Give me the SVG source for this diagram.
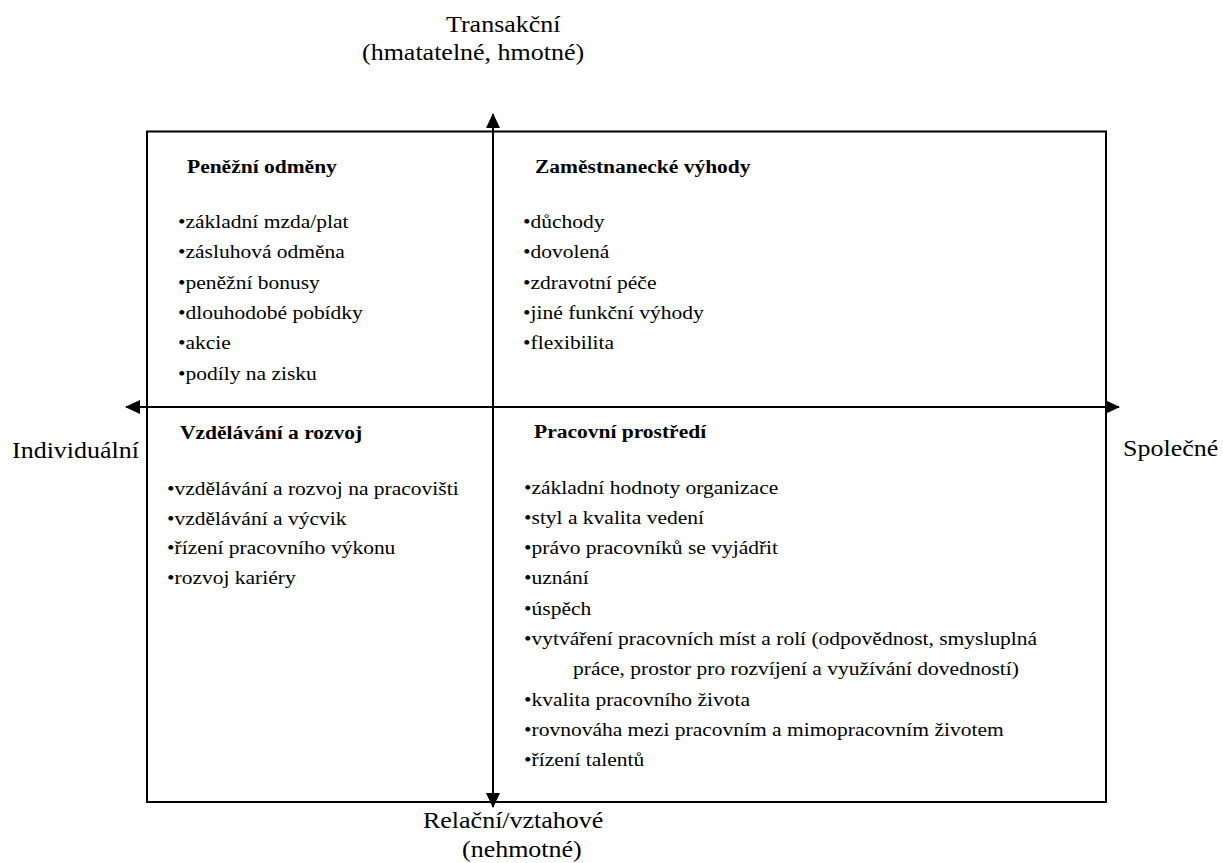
<svg xmlns="http://www.w3.org/2000/svg" width="1223" height="863" viewBox="0 0 1223 863" font-family="'Liberation Serif', 'Times New Roman', serif">
<defs>
<style>
text{font-family:'Liberation Serif','Times New Roman',serif;fill:#000}
.ax{font-size:22.6px}
.b{font-size:18.7px}
.h{font-size:18.7px;font-weight:bold}
.ln{stroke:#000;stroke-width:2;fill:none}
</style>
<marker id="arr" viewBox="0 0 15 14" markerWidth="15" markerHeight="14" refX="14" refY="7" orient="auto-start-reverse" markerUnits="userSpaceOnUse">
<path d="M0,0 L15,7 L0,14 Z" fill="#000"/>
</marker>
</defs>
<rect width="1223" height="863" fill="#fff"/>
<rect id="frame" x="147" y="131.5" width="959" height="670.5" class="ln"/>
<g id="connectors">
<line x1="126" y1="407" x2="1119" y2="407" class="ln" marker-start="url(#arr)" marker-end="url(#arr)"/>
<line x1="493" y1="114" x2="493" y2="807" class="ln" marker-start="url(#arr)" marker-end="url(#arr)"/>
</g>
<g id="label-top" font-family="Liberation Serif">
<text class="ax" font-family="Liberation Serif" transform="translate(446,32) scale(1.15,1)">Transakční</text>
<text class="ax" font-family="Liberation Serif" transform="translate(362,60) scale(1.15,1)">(hmatatelné, hmotné)</text>
</g>
<g id="label-bottom" font-family="Liberation Serif">
<text class="ax" transform="translate(423,828) scale(1.15,1)">Relační/vztahové</text>
<text class="ax" transform="translate(462,857) scale(1.15,1)">(nehmotné)</text>
</g>
<g id="label-left" font-family="Liberation Serif">
<text class="ax" transform="translate(12,458) scale(1.15,1)">Individuální</text>
</g>
<g id="label-right" font-family="Liberation Serif">
<text class="ax" transform="translate(1123,456) scale(1.15,1)">Společné</text>
</g>
<g id="q-penezni" font-family="Liberation Serif">
<text class="h" transform="translate(187,173) scale(1.15,1)">Peněžní odměny</text>
<text class="b" transform="translate(178,228) scale(1.15,1)">•základní mzda/plat</text>
<text class="b" transform="translate(178,258.3) scale(1.15,1)">•zásluhová odměna</text>
<text class="b" transform="translate(178,288.6) scale(1.15,1)">•peněžní bonusy</text>
<text class="b" transform="translate(178,318.9) scale(1.15,1)">•dlouhodobé pobídky</text>
<text class="b" transform="translate(178,349.2) scale(1.15,1)">•akcie</text>
<text class="b" transform="translate(178,379.5) scale(1.15,1)">•podíly na zisku</text>
</g>
<g id="q-vyhody" font-family="Liberation Serif">
<text class="h" transform="translate(535,173) scale(1.15,1)">Zaměstnanecké výhody</text>
<text class="b" transform="translate(523,228) scale(1.15,1)">•důchody</text>
<text class="b" transform="translate(523,258.3) scale(1.15,1)">•dovolená</text>
<text class="b" transform="translate(523,288.6) scale(1.15,1)">•zdravotní péče</text>
<text class="b" transform="translate(523,318.9) scale(1.15,1)">•jiné funkční výhody</text>
<text class="b" transform="translate(523,349.2) scale(1.15,1)">•flexibilita</text>
</g>
<g id="q-vzdelavani" font-family="Liberation Serif">
<text class="h" transform="translate(180,439) scale(1.15,1)">Vzdělávání a rozvoj</text>
<text class="b" transform="translate(167,495) scale(1.15,1)">•vzdělávání a rozvoj na pracovišti</text>
<text class="b" transform="translate(167,524.7) scale(1.15,1)">•vzdělávání a výcvik</text>
<text class="b" transform="translate(167,554.4) scale(1.15,1)">•řízení pracovního výkonu</text>
<text class="b" transform="translate(167,584.1) scale(1.15,1)">•rozvoj kariéry</text>
</g>
<g id="q-prostredi" font-family="Liberation Serif">
<text class="h" transform="translate(534,438) scale(1.15,1)">Pracovní prostředí</text>
<text class="b" transform="translate(524,493.5) scale(1.15,1)">•základní hodnoty organizace</text>
<text class="b" transform="translate(524,523.8) scale(1.15,1)">•styl a kvalita vedení</text>
<text class="b" transform="translate(524,554.1) scale(1.15,1)">•právo pracovníků se vyjádřit</text>
<text class="b" transform="translate(524,584.4) scale(1.15,1)">•uznání</text>
<text class="b" transform="translate(524,614.7) scale(1.15,1)">•úspěch</text>
<text class="b" transform="translate(524,645) scale(1.15,1)">•vytváření pracovních míst a rolí (odpovědnost, smysluplná</text>
<text class="b" transform="translate(573,675.3) scale(1.15,1)">práce, prostor pro rozvíjení a využívání dovedností)</text>
<text class="b" transform="translate(524,705.6) scale(1.15,1)">•kvalita pracovního života</text>
<text class="b" transform="translate(524,735.9) scale(1.15,1)">•rovnováha mezi pracovním a mimopracovním životem</text>
<text class="b" transform="translate(524,766.2) scale(1.15,1)">•řízení talentů</text>
</g>
</svg>
